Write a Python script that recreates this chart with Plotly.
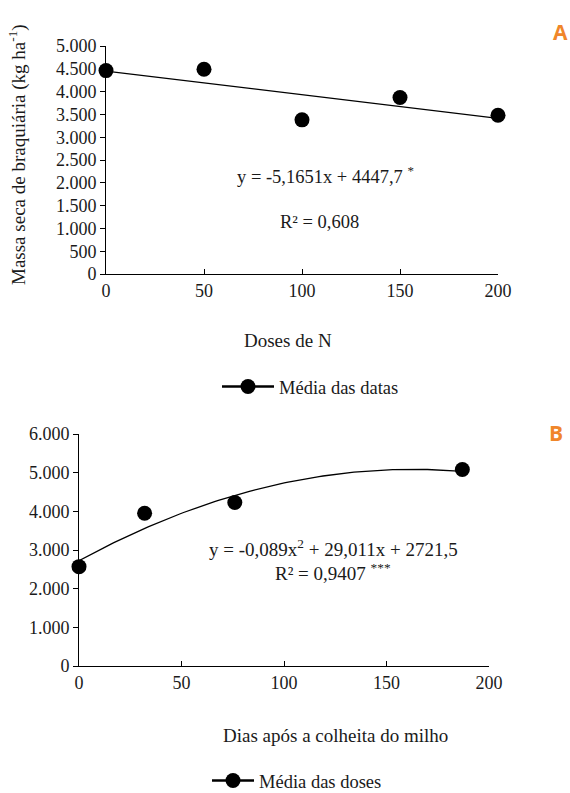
import numpy as np
import plotly.graph_objects as go

# ---- Data ----
doses_n = [0, 50, 100, 150, 200]
massa_a = [4460, 4490, 3380, 3870, 3480]
coef_a = [-5.1651, 4447.7]          # linear fit: slope, intercept

dias = [0, 32, 76, 187]
massa_b = [2570, 3950, 4230, 5080]
coef_b = [-0.089, 29.011, 2721.5]   # quadratic fit

yticks_a = [0, 500, 1000, 1500, 2000, 2500, 3000, 3500, 4000, 4500, 5000]
yticks_b = [0, 1000, 2000, 3000, 4000, 5000, 6000]
xticks = [0, 50, 100, 150, 200]

W, H = 570, 793
def px(x): return x / W
def py(y): return (H - y) / H

FONT = "Liberation Serif, serif"
TXT = "#1a1a1a"
LW = 1.3
MS = 15

fig = go.Figure()

# Panel A
xa = np.linspace(min(doses_n), max(doses_n), 50)
fig.add_trace(go.Scatter(x=xa, y=np.polyval(coef_a, xa), mode="lines",
                         line=dict(color="black", width=LW),
                         showlegend=False, hoverinfo="skip", xaxis="x", yaxis="y"))
fig.add_trace(go.Scatter(x=doses_n, y=massa_a, mode="markers",
                         marker=dict(color="black", size=MS),
                         showlegend=False, xaxis="x", yaxis="y", cliponaxis=False))
fig.add_trace(go.Scatter(x=[None], y=[None], mode="lines+markers",
                         line=dict(color="black", width=2.5),
                         marker=dict(color="black", size=MS),
                         name="Média das datas", xaxis="x", yaxis="y", legend="legend"))
# Panel B
xb = np.linspace(min(dias), max(dias), 100)
fig.add_trace(go.Scatter(x=xb, y=np.polyval(coef_b, xb), mode="lines",
                         line=dict(color="black", width=LW),
                         showlegend=False, hoverinfo="skip", xaxis="x2", yaxis="y2"))
fig.add_trace(go.Scatter(x=dias, y=massa_b, mode="markers",
                         marker=dict(color="black", size=MS),
                         showlegend=False, xaxis="x2", yaxis="y2", cliponaxis=False))
fig.add_trace(go.Scatter(x=[None], y=[None], mode="lines+markers",
                         line=dict(color="black", width=2.5),
                         marker=dict(color="black", size=MS),
                         name="Média das doses", xaxis="x2", yaxis="y2", legend="legend2"))

axis_common = dict(showline=True, linecolor="black", linewidth=1, showgrid=False,
                   zeroline=False, tickfont=dict(family=FONT, size=18, color=TXT),
                   tickcolor="black", ticklen=5, tickwidth=1, automargin=False)

fig.update_layout(
    width=W, height=H, margin=dict(l=0, r=0, t=0, b=0, autoexpand=False),
    plot_bgcolor="white", paper_bgcolor="white",
    separators=",.",
    xaxis=dict(domain=[px(106), px(498)], range=[0, 200], anchor="y",
               tickvals=xticks, ticks="inside", **axis_common),
    yaxis=dict(domain=[py(274), py(46)], range=[0, 5000], anchor="x",
               tickvals=yticks_a, tickformat=",.0f", ticks="outside", **axis_common),
    xaxis2=dict(domain=[px(79), px(489)], range=[0, 200], anchor="y2",
                tickvals=xticks, ticks="inside", **axis_common),
    yaxis2=dict(domain=[py(666), py(434)], range=[0, 6000], anchor="x2",
                tickvals=yticks_b, tickformat=",.0f", ticks="outside", **axis_common),
    legend=dict(x=px(217), y=py(387), xanchor="left", yanchor="middle",
                xref="container", yref="container", itemwidth=52,
                font=dict(family=FONT, size=18.5, color=TXT), bgcolor="rgba(0,0,0,0)"),
    legend2=dict(x=px(207), y=py(781), xanchor="left", yanchor="middle",
                 xref="container", yref="container", itemwidth=42,
                 font=dict(family=FONT, size=18.5, color=TXT), bgcolor="rgba(0,0,0,0)"),
)

ann = [
    dict(x=px(18), y=py(155), text="Massa seca de braquiária (kg ha<sup>-1</sup>)",
         textangle=-90, font=dict(family=FONT, size=19, color=TXT)),
    dict(x=px(288), y=py(340), text="Doses de N", font=dict(family=FONT, size=19, color=TXT)),
    dict(x=px(336), y=py(735), text="Dias após a colheita do milho",
         font=dict(family=FONT, size=19, color=TXT)),
    dict(x=px(235), y=py(175), xanchor="left",
         text="y = -5,1651x + 4447,7 <sup>*</sup>", font=dict(family=FONT, size=18.5, color=TXT)),
    dict(x=px(278), y=py(222), xanchor="left",
         text="R² = 0,608", font=dict(family=FONT, size=18.5, color=TXT)),
    dict(x=px(207), y=py(548), xanchor="left",
         text="y = -0,089x<sup>2</sup> + 29,011x + 2721,5", font=dict(family=FONT, size=19, color=TXT)),
    dict(x=px(273), y=py(572), xanchor="left",
         text="R² = 0,9407 <sup>***</sup>", font=dict(family=FONT, size=19, color=TXT)),
    dict(x=px(560), y=py(32), text="<b>A</b>",
         font=dict(family="Open Sans", size=21, color="#F0862A")),
    dict(x=px(556), y=py(433), text="<b>B</b>",
         font=dict(family="Open Sans", size=21, color="#F0862A")),
]
for a in ann:
    a.update(xref="paper", yref="paper", showarrow=False)
    a.setdefault("xanchor", "center")
    a.setdefault("yanchor", "middle")
fig.update_layout(annotations=ann)

fig.write_html("out.html")
